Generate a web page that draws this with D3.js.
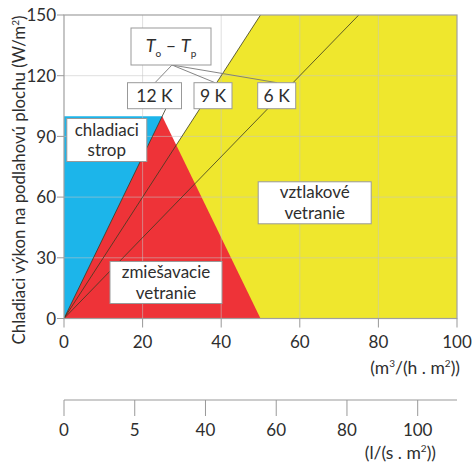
<!DOCTYPE html>
<meta charset="utf-8">
<head>
    <title>Chladiaci výkon na podlahovú plochu</title>
    <script type="text/javascript" src="https://cdnjs.cloudflare.com/ajax/libs/d3/7.8.5/d3.min.js"></script>
    <style>
        body { margin: 0; background: #fff; }
        svg text { font-family: Lato, "Open Sans", sans-serif; fill: #2e2e2e; }
        .box rect { fill: #fff; stroke: #999; stroke-width: 1; }
    </style>
</head>
<body>
<div id="chart"></div>
<script>

    // data (x: m3/(h.m2), y: W/m2)
    var xTicks = [0, 20, 40, 60, 80, 100];
    var yTicks = [0, 30, 60, 90, 120, 150];
    var lsTicks = [0, 5, 10, 15, 20, 25];                 // l/(s.m2)
    var lsTickLabels = ["0", "5", "40", "60", "80", "100"]; // as printed
    var ceilingArea = [[0, 0], [0, 100], [25, 100], [25, 0]];
    var mixingArea = [[0, 0], [25, 100], [50, 0]];
    var displacementArea = [[0, 0], [50, 150], [100, 150], [100, 0]];
    var deltaT = [12, 9, 6];          // K
    var deltaTEnd = [104, 150, 150];  // W/m2 where each line stops
    var deltaTLabels = ["12 K", "9 K", "6 K"];
    var wattPerK = 1 / 3;             // W per (m3/h) per K

    var width = 474, height = 475;

    var svg = d3.select('#chart')
        .append('svg')
        .attr('width', width)
        .attr('height', height);

    var x = d3.scaleLinear().domain([0, 100]).range([64, 457]);
    var y = d3.scaleLinear().domain([0, 150]).range([318.5, 15]);
    var xLs = d3.scaleLinear().domain([0, 100 / 3.6]).range([64, 457]);

    var line = d3.line().x(d => x(d[0])).y(d => y(d[1]));

    // colored areas
    svg.append('path').datum(displacementArea)
        .attr('d', d => line(d) + 'Z')
        .style('fill', '#efe72d');
    svg.append('path').datum(ceilingArea)
        .attr('d', d => line(d) + 'Z')
        .style('fill', '#1cb5ea');
    svg.append('path').datum(mixingArea)
        .attr('d', d => line(d) + 'Z')
        .style('fill', '#ee3338');

    // grid
    var grid = svg.append('g')
        .style('stroke', '#c4c4c4')
        .style('stroke-opacity', 0.55)
        .style('stroke-width', 1);
    grid.selectAll('.gx').data(xTicks.slice(1, -1)).enter().append('line')
        .attr('x1', d => x(d)).attr('x2', d => x(d))
        .attr('y1', y(0)).attr('y2', y(150));
    grid.selectAll('.gy').data(yTicks.slice(1, -1)).enter().append('line')
        .attr('x1', x(0)).attr('x2', x(100))
        .attr('y1', d => y(d)).attr('y2', d => y(d));

    // temperature difference lines
    svg.selectAll('.dt').data(deltaT).enter().append('path')
        .attr('d', (d, i) => line([[0, 0], [deltaTEnd[i] / (d * wattPerK), deltaTEnd[i]]]))
        .style('stroke', '#3a3a20')
        .style('stroke-width', 0.8)
        .style('fill', 'none');

    // frame
    svg.append('rect')
        .attr('x', x(0)).attr('y', y(150))
        .attr('width', x(100) - x(0)).attr('height', y(0) - y(150))
        .style('fill', 'none').style('stroke', '#a0a0a0').style('stroke-width', 1.2);

    // y axis
    var yAxis = svg.append('g');
    yAxis.selectAll('line').data(yTicks).enter().append('line')
        .attr('x1', x(0) - 7).attr('x2', x(0))
        .attr('y1', d => y(d)).attr('y2', d => y(d))
        .style('stroke', '#999');
    yAxis.selectAll('text').data(yTicks).enter().append('text')
        .attr('x', x(0) - 8).attr('y', d => y(d))
        .attr('dy', '0.36em')
        .attr('text-anchor', 'end')
        .style('font-size', '17px')
        .text(d => d);

    svg.append('text')
        .attr('transform', 'translate(25,' + 180 + ') rotate(-90)')
        .attr('text-anchor', 'middle')
        .style('font-size', '16.8px')
        .html('Chladiaci výkon na podlahovú plochu (W/m<tspan dy="-6" font-size="10px">2</tspan><tspan dy="6">)</tspan>');

    // x axis
    var xAxis = svg.append('g');
    xAxis.selectAll('line').data(xTicks).enter().append('line')
        .attr('x1', d => x(d)).attr('x2', d => x(d))
        .attr('y1', y(0)).attr('y2', y(0) + 9)
        .style('stroke', '#999');
    xAxis.selectAll('text').data(xTicks).enter().append('text')
        .attr('x', d => x(d)).attr('y', 348)
        .attr('text-anchor', 'middle')
        .style('font-size', '17px')
        .text(d => d);
    svg.append('text')
        .attr('x', 460).attr('y', 374)
        .attr('text-anchor', 'end')
        .style('font-size', '17.5px')
        .html('(m<tspan dy="-7" font-size="10px">3</tspan><tspan dy="7">/(h . m</tspan><tspan dy="-7" font-size="10px">2</tspan><tspan dy="7">))</tspan>');

    // second axis in l/(s.m2)
    var lsAxis = svg.append('g');
    lsAxis.append('line')
        .attr('x1', x(0)).attr('x2', x(100))
        .attr('y1', 400).attr('y2', 400)
        .style('stroke', '#999');
    lsAxis.selectAll('.t').data(lsTicks).enter().append('line')
        .attr('x1', d => xLs(d)).attr('x2', d => xLs(d))
        .attr('y1', 400).attr('y2', 416)
        .style('stroke', '#999');
    lsAxis.selectAll('text').data(lsTicks).enter().append('text')
        .attr('x', d => xLs(d)).attr('y', 436)
        .attr('text-anchor', 'middle')
        .style('font-size', '17px')
        .text((d, i) => lsTickLabels[i]);
    svg.append('text')
        .attr('x', 436).attr('y', 459)
        .attr('text-anchor', 'end')
        .style('font-size', '17.5px')
        .html('(l/(s . m<tspan dy="-7" font-size="10px">2</tspan><tspan dy="7">))</tspan>');

    // annotation boxes
    function box(cx, cy, w, h) {
        var g = svg.append('g').attr('class', 'box');
        g.append('rect')
            .attr('x', cx - w / 2).attr('y', cy - h / 2)
            .attr('width', w).attr('height', h);
        return g;
    }
    // two centred lines, kept far enough apart that their boxes don't touch
    function twoLines(g, cx, cy, a, b) {
        g.append('text').attr('x', cx).attr('y', cy - 4.5)
            .attr('text-anchor', 'middle').style('font-size', '17px').text(a);
        g.append('text').attr('x', cx).attr('y', cy + 16)
            .attr('text-anchor', 'middle').style('font-size', '17px').text(b);
    }

    // connectors from the T box to the K boxes
    var tBox = {cx: 171, cy: 46.5, w: 80, h: 37};
    var kBoxes = [
        {cx: 154.5, w: 54},
        {cx: 213, w: 38},
        {cx: 276.7, w: 38}
    ];
    var kTop = 82.7, kH = 26;
    var kAnchor = [155, 215, 277];
    svg.selectAll('.conn').data(kAnchor).enter().append('line')
        .attr('x1', tBox.cx + 1).attr('y1', tBox.cy + tBox.h / 2)
        .attr('x2', d => d).attr('y2', kTop)
        .style('stroke', '#777').style('stroke-width', 0.9);

    var tg = box(tBox.cx, tBox.cy, tBox.w, tBox.h);
    tg.append('text')
        .attr('x', tBox.cx).attr('y', tBox.cy + 5)
        .attr('text-anchor', 'middle')
        .style('font-size', '18px')
        .html('<tspan font-style="italic">T</tspan><tspan dy="5" font-size="10px">o</tspan>' +
              '<tspan dy="-5"> – </tspan><tspan font-style="italic">T</tspan><tspan dy="5" font-size="10px">p</tspan>');

    kBoxes.forEach(function(k, i) {
        var g = box(k.cx, kTop + kH / 2, k.w, kH);
        g.append('text')
            .attr('x', k.cx).attr('y', kTop + kH / 2 + 6.5)
            .attr('text-anchor', 'middle')
            .style('font-size', '17.5px')
            .text(deltaTLabels[i]);
    });

    var g1 = box(106.8, 140, 80, 43);
    twoLines(g1, 106.8, 140, 'chladiaci', 'strop');
    var g2 = box(166, 282.5, 112, 42);
    twoLines(g2, 166, 282.5, 'zmiešavacie', 'vetranie');
    var g3 = box(314.7, 202.8, 113, 42);
    twoLines(g3, 314.7, 202.8, 'vztlakové', 'vetranie');

</script>
</body>
</html>
